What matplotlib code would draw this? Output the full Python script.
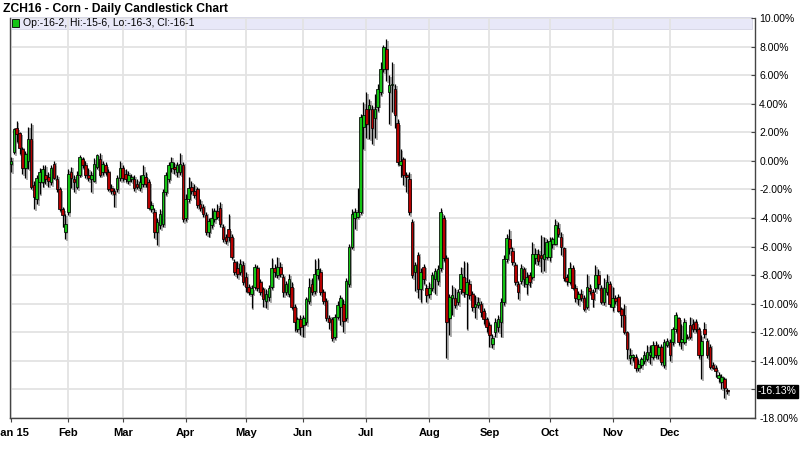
import numpy as np
import pandas as pd
import matplotlib
matplotlib.use("Agg")
import matplotlib.pyplot as plt
from matplotlib.patches import Rectangle

# --- data: % change, one candle per trading day of 2015 ---
holidays = ["2015-01-19", "2015-02-16", "2015-04-03", "2015-05-25",
            "2015-07-03", "2015-09-07", "2015-11-26", "2015-12-25"]

opens = [
    # Jan
    -0.2, 0.6, 2.3, 1.95, 0.8, -0.5, 0.0, 1.5, -1.7, -2.7, -1.5, -1.5, -1.0, -1.1, -1.5, -0.2, -1.3, -2.0, -3.4, -5.0,
    # Feb
    -3.6, -0.8, -1.3, -1.8, -1.0, 0.1, -0.3, -1.0, -1.3, -1.4, -0.4, 0.1, -0.8, -0.3, -0.8, -1.9, -2.1, -2.0, -1.2,
    # Mar
    -0.5, -0.9, -1.4, -1.3, -1.3, -1.6, -1.9, -1.6, -1.1, -1.5, -3.4, -3.6, -5.0, -4.5, -4.4, -2.2, -1.3, -0.5, -0.4, -0.8, -0.8, -0.3,
    # Apr
    -4.0, -2.7, -1.8, -2.1, -2.0, -3.0, -3.2, -3.8, -5.0, -4.5, -4.1, -3.5, -3.3, -4.6, -5.3, -4.8, -5.3, -7.1, -7.5, -7.8, -7.3,
    # May
    -8.1, -8.8, -9.3, -8.8, -7.5, -8.5, -9.0, -9.8, -9.5, -8.8, -7.5, -8.0, -7.4, -8.1, -9.2, -9.3, -8.8, -10.2, -11.8, -11.1,
    # Jun
    -11.5, -11.3, -9.8, -8.6, -9.1, -8.0, -7.8, -9.2, -9.8, -11.0, -11.1, -12.3, -10.9, -10.2, -10.0, -11.0, -8.6, -6.0, -4.0, -3.9, -3.6, 2.4,
    # Jul
    3.6, 3.6, 3.6, 3.0, 3.8, 4.8, 6.4, 7.8, 4.8, 5.3, 5.0, 2.65, -0.3, 0.1, -1.0, -1.3, -4.3, -7.8, -6.6, -9.0, -7.4, -8.9,
    # Aug
    -9.3, -8.9, -8.3, -8.4, -7.5, -4.0, -6.8, -11.0, -9.6, -9.6, -9.9, -9.0, -8.1, -9.3, -8.6, -9.3, -10.2, -10.1, -10.0, -10.5, -11.1,
    # Sep
    -11.5, -12.8, -12.0, -11.6, -11.3, -9.9, -6.9, -5.5, -6.3, -7.3, -8.6, -8.4, -7.6, -8.6, -8.0, -8.1, -6.8, -6.5, -6.6, -6.9, -6.7,
    # Oct
    -6.7, -5.8, -5.8, -4.7, -5.3, -6.1, -8.1, -8.5, -7.5, -8.9, -9.7, -9.3, -9.6, -10.2, -8.9, -9.2, -8.9, -8.0, -8.9, -9.9, -9.2, -8.6,
    # Nov
    -10.2, -9.6, -9.5, -10.4, -10.8, -12.0, -13.8, -13.7, -13.7, -14.5, -14.3, -14.0, -13.9, -13.6, -13.7, -12.9, -13.6, -13.0, -14.3, -12.9,
    # Dec
    -12.7, -12.7, -11.8, -11.0, -12.7, -12.7, -12.3, -11.5, -11.4, -11.3, -11.8, -13.6, -11.8, -12.6, -13.0, -14.3, -14.5, -15.2, -15.5, -15.3, -16.1,
]

highs = [
    0.3, 2.3, 2.8, 2.0, 1.0, 0.7, 2.4, 2.65, -1.4, -1.0, -0.5, -0.3, -0.3, -0.8, -0.3, 0.0, -1.0, -1.8, -3.2, -3.7,
    -0.6, -0.4, -1.0, -0.7, 0.4, 0.3, 0.0, -0.5, -0.7, 0.2, 0.5, 0.55, 0.0, -0.1, -0.6, -1.6, -1.9, -1.0, 0.0,
    -0.3, -0.6, -0.7, -0.9, -1.0, -1.3, -1.0, -0.3, -0.8, -1.3, -2.8, -3.3, -4.0, -3.4, -2.0, -0.8, -0.1, 0.3, -0.1, -0.1, 0.55, -0.1,
    -2.3, -1.1, -1.4, -1.6, -1.8, -2.7, -3.0, -3.6, -4.0, -3.3, -3.3, -3.0, -2.9, -4.4, -5.1, -3.7, -5.1, -6.9, -7.0, -6.9, -7.0,
    -7.8, -8.6, -8.7, -7.2, -7.3, -8.3, -8.8, -9.0, -8.7, -6.8, -7.2, -6.7, -7.1, -7.9, -8.4, -7.9, -8.5, -10.0, -10.9, -10.8,
    -10.8, -9.5, -8.2, -8.2, -6.9, -6.8, -7.5, -9.0, -9.6, -10.8, -10.9, -10.7, -9.8, -9.4, -9.7, -8.2, -5.8, -3.4, -3.3, -1.9, 3.3, 4.1,
    4.8, 4.3, 3.9, 4.7, 5.4, 6.9, 8.1, 8.5, 6.0, 6.9, 5.4, 2.9, 0.8, 0.3, -0.8, -0.8, -4.1, -7.1, -6.4, -7.5, -7.2, -8.6,
    -8.5, -7.8, -7.5, -7.3, -3.3, -3.8, -6.6, -9.3, -8.7, -8.9, -9.0, -7.4, -7.0, -7.1, -8.3, -9.1, -9.4, -9.5, -9.8, -10.3, -10.9,
    -11.3, -12.1, -11.0, -10.8, -9.6, -6.6, -5.1, -4.8, -6.0, -7.1, -8.4, -7.2, -7.4, -7.8, -7.8, -5.7, -6.1, -6.2, -5.2, -5.3, -5.5,
    -5.3, -5.3, -4.1, -4.3, -5.0, -6.0, -7.9, -7.1, -7.3, -8.6, -9.1, -9.0, -9.4, -7.9, -8.6, -9.0, -7.3, -7.6, -8.7, -8.2, -7.9, -8.4,
    -8.8, -9.4, -9.3, -10.2, -10.0, -11.9, -13.1, -13.5, -13.5, -13.9, -13.7, -13.3, -12.9, -12.9, -12.6, -12.6, -12.8, -12.8, -12.5, -12.4,
    -12.5, -11.6, -10.6, -10.9, -11.4, -11.0, -12.1, -10.9, -11.1, -11.1, -11.6, -12.2, -11.3, -12.4, -12.8, -14.1, -14.3, -14.8, -14.9, -15.1, -15.9,
]

lows = [
    -0.8, 0.5, 1.3, 0.5, -0.9, -1.2, -0.6, -2.0, -3.4, -3.0, -2.3, -1.8, -1.6, -1.8, -1.7, -1.3, -2.2, -3.5, -4.6, -5.5,
    -3.8, -1.9, -2.2, -2.0, -1.1, -0.5, -1.2, -1.4, -2.2, -1.5, -0.6, -1.1, -1.0, -1.0, -2.1, -2.3, -3.2, -2.2, -1.4,
    -1.4, -1.5, -1.6, -1.5, -2.1, -2.0, -2.1, -1.8, -1.8, -3.4, -3.6, -5.4, -5.9, -4.8, -4.6, -2.4, -1.5, -0.8, -0.9, -1.1, -1.0, -4.3,
    -4.2, -2.9, -2.3, -2.6, -3.3, -3.5, -3.9, -5.2, -5.3, -4.7, -4.3, -4.1, -4.6, -5.7, -5.8, -5.6, -6.9, -8.0, -8.2, -8.0, -8.7,
    -9.2, -9.4, -10.3, -9.0, -9.1, -9.4, -10.2, -10.3, -9.8, -9.0, -8.1, -8.2, -8.1, -9.5, -9.4, -9.5, -10.4, -11.9, -12.0, -12.2,
    -12.3, -11.5, -10.0, -9.4, -9.3, -8.3, -9.4, -10.0, -11.2, -11.8, -12.6, -12.5, -11.1, -11.5, -12.0, -11.2, -8.8, -6.2, -4.8, -4.0, -3.7, 0.8,
    1.6, 1.5, 1.2, 1.6, 3.5, 4.6, 6.2, 5.6, 2.6, 3.4, 2.3, -0.3, -1.1, -1.7, -2.2, -3.8, -8.2, -9.1, -9.6, -9.9, -8.6, -9.9,
    -9.6, -9.1, -9.3, -8.7, -7.7, -7.0, -13.8, -12.2, -10.8, -10.3, -10.1, -9.3, -9.5, -11.8, -9.7, -10.5, -11.0, -10.3, -10.9, -11.4, -12.0,
    -13.0, -13.1, -12.3, -12.0, -12.3, -10.1, -7.1, -6.5, -7.3, -8.7, -9.7, -8.6, -8.8, -9.3, -8.8, -8.3, -7.2, -7.3, -7.8, -7.7, -6.9,
    -7.0, -6.1, -5.9, -5.3, -6.6, -8.4, -8.7, -8.6, -9.0, -9.9, -10.1, -9.8, -10.5, -10.4, -9.3, -10.2, -9.2, -9.0, -10.0, -10.1, -9.4, -10.2,
    -10.5, -10.0, -10.6, -11.6, -12.1, -13.9, -14.2, -14.0, -14.7, -14.7, -14.5, -14.2, -14.0, -14.2, -13.9, -13.8, -13.9, -14.3, -14.5, -13.0,
    -14.0, -12.9, -12.0, -12.9, -13.2, -12.8, -12.5, -12.5, -12.0, -12.0, -13.8, -15.3, -12.4, -13.8, -14.6, -14.6, -15.1, -15.5, -16.0, -16.6, -16.3,
]

closes = [
    0.0, 2.2, 1.9, 0.9, -0.5, 0.5, 1.5, -1.8, -2.5, -1.2, -0.8, -0.6, -1.3, -1.4, -0.5, -1.2, -2.0, -3.4, -3.8, -4.4,
    -0.9, -1.2, -1.5, -1.0, 0.3, -0.3, -1.0, -1.2, -1.0, -0.2, 0.4, -1.0, -0.2, -0.8, -2.0, -2.1, -2.3, -1.2, -0.5,
    -1.2, -1.3, -1.0, -1.1, -1.9, -1.8, -1.5, -1.0, -1.6, -3.3, -3.1, -5.0, -4.3, -3.7, -2.2, -1.0, -0.3, -0.1, -0.6, -0.3, -0.2, -4.1,
    -2.7, -1.9, -2.1, -2.4, -3.1, -3.3, -3.7, -5.0, -4.2, -4.0, -3.5, -3.9, -4.4, -5.5, -5.6, -5.3, -6.7, -7.8, -7.9, -7.2, -8.5,
    -8.8, -9.2, -8.9, -7.4, -8.9, -9.2, -9.7, -9.3, -8.9, -7.5, -7.8, -7.4, -7.9, -9.2, -8.6, -8.3, -10.2, -11.3, -11.1, -11.6,
    -11.0, -9.7, -8.8, -9.2, -7.9, -7.6, -9.2, -9.8, -11.0, -11.3, -12.4, -10.9, -10.1, -9.6, -11.2, -8.4, -6.0, -3.7, -3.6, -3.6, 3.1, 3.2,
    2.6, 3.9, 2.3, 3.6, 5.0, 6.4, 8.0, 6.4, 5.3, 5.4, 3.2, -0.1, 0.0, -1.0, -1.1, -3.6, -8.0, -7.3, -9.0, -7.8, -8.3, -9.4,
    -8.9, -8.0, -7.7, -7.6, -3.6, -6.8, -11.3, -9.5, -9.4, -10.1, -9.2, -7.9, -9.2, -8.5, -9.4, -10.2, -10.0, -9.9, -10.6, -11.1, -11.6,
    -12.2, -12.4, -11.3, -11.1, -9.9, -6.9, -5.4, -6.1, -7.1, -8.5, -9.2, -7.5, -8.3, -8.1, -8.5, -6.5, -6.5, -7.0, -6.8, -6.5, -5.7,
    -5.6, -5.5, -4.5, -5.1, -6.0, -8.2, -8.4, -7.5, -8.9, -9.6, -9.3, -9.6, -10.4, -8.8, -9.1, -9.7, -8.0, -8.6, -9.9, -8.9, -8.5, -10.0,
    -9.6, -9.8, -10.5, -10.8, -12.0, -13.2, -13.6, -13.7, -14.5, -14.2, -13.9, -13.6, -13.4, -13.4, -12.9, -13.6, -13.0, -14.1, -12.7, -12.6,
    -13.6, -11.8, -10.8, -12.7, -12.5, -11.3, -12.4, -12.3, -11.8, -11.8, -13.6, -12.6, -12.1, -13.6, -14.4, -14.5, -14.7, -15.0, -15.1, -15.9, -16.13,
]

month_labels = ["Jan 15", "Feb", "Mar", "Apr", "May", "Jun",
                "Jul", "Aug", "Sep", "Oct", "Nov", "Dec"]
y_ticks = list(range(-18, 11, 2))
title = "ZCH16 - Corn - Daily Candlestick Chart"
legend_text = "Op:-16-2, Hi:-15-6, Lo:-16-3, Cl:-16-1"

# --- build ---
o = np.array(opens)
h = np.array(highs)
l = np.array(lows)
c = np.array(closes)
x = np.arange(len(c))

dates = pd.bdate_range("2015-01-02", "2015-12-31", freq="C", holidays=holidays)[:len(c)]
month_pos = [int(np.argmax(dates.month == m)) for m in range(1, 13)]

up = c >= o
body_col = np.where(up, "#14c314", "#b50000")
bottom = np.minimum(o, c)
height = np.maximum(np.abs(c - o), 0.08)

narrow = ["Liberation Sans Narrow", "Liberation Sans", "DejaVu Sans"]
plain = ["Liberation Sans", "DejaVu Sans"]

fig = plt.figure(figsize=(8, 4.54), dpi=100)
ax = fig.add_axes([10 / 800, 36 / 454, 745 / 800, 400 / 454])
ax.set_axisbelow(True)

# drop shadow behind each candle
sx, sy = 0.6, -0.13
ax.vlines(x + sx, l + sy, h + sy, color="#9a9a9a", lw=1.1, zorder=1)
ax.bar(x + sx, height, bottom=bottom + sy, width=0.9, color="#9a9a9a",
       lw=0, zorder=1)

ax.vlines(x, l, h, color="black", lw=0.9, zorder=2)
ax.bar(x, height, bottom=bottom, width=0.9, color=body_col,
       edgecolor="black", lw=0.55, zorder=3)

ax.set_xlim(-0.35, 259.7)
ax.set_ylim(-18, 10)

ax.set_xticks(month_pos)
ax.set_xticklabels(month_labels, fontfamily=narrow, fontweight="bold", fontsize=8)
ax.tick_params(axis="x", direction="out", length=3, pad=4, color="#444444")

ax.yaxis.tick_right()
ax.set_yticks(y_ticks)
ax.set_yticklabels(["" if v == -16 else f"{v:.2f}%" for v in y_ticks],
                   fontfamily=plain, fontsize=7.5)
ax.tick_params(axis="y", direction="in", length=3, pad=3, color="#444444")

ax.grid(True, color="#e3e3e3", lw=1.3)

for side in ["left", "right", "bottom"]:
    ax.spines[side].set_color("#444444")
    ax.spines[side].set_linewidth(1.0)
ax.spines["top"].set_visible(False)

# header band with last-bar values
ax.add_patch(Rectangle((0, 0.9725), 0.996, 0.03, transform=ax.transAxes,
                       facecolor="#e8e8f8", edgecolor="#d4d4e4", lw=0.6,
                       clip_on=False, zorder=0.4))
ax.add_patch(Rectangle((0.0027, 0.9775), 0.0094, 0.02, transform=ax.transAxes,
                       facecolor="#14c314", edgecolor="black", lw=0.6,
                       clip_on=False, zorder=4))
ax.text(0.0175, 0.9875, legend_text, transform=ax.transAxes, fontsize=7.5,
        fontfamily=plain, va="center", ha="left", zorder=4)

# last price tag
ax.annotate(f"{c[-1]:.2f}%", xy=(1.0, c[-1]), xycoords=("axes fraction", "data"),
            xytext=(2, 0), textcoords="offset points", color="white",
            fontsize=7.5, fontfamily=plain, va="center", ha="left",
            bbox=dict(boxstyle="square,pad=0.12", fc="black", ec="black"),
            annotation_clip=False)

fig.text(3 / 800, 1 - 9 / 454, title, fontsize=8.7, fontweight="bold",
         fontfamily=plain, va="center", ha="left")

fig.savefig("out.png", dpi=100)
